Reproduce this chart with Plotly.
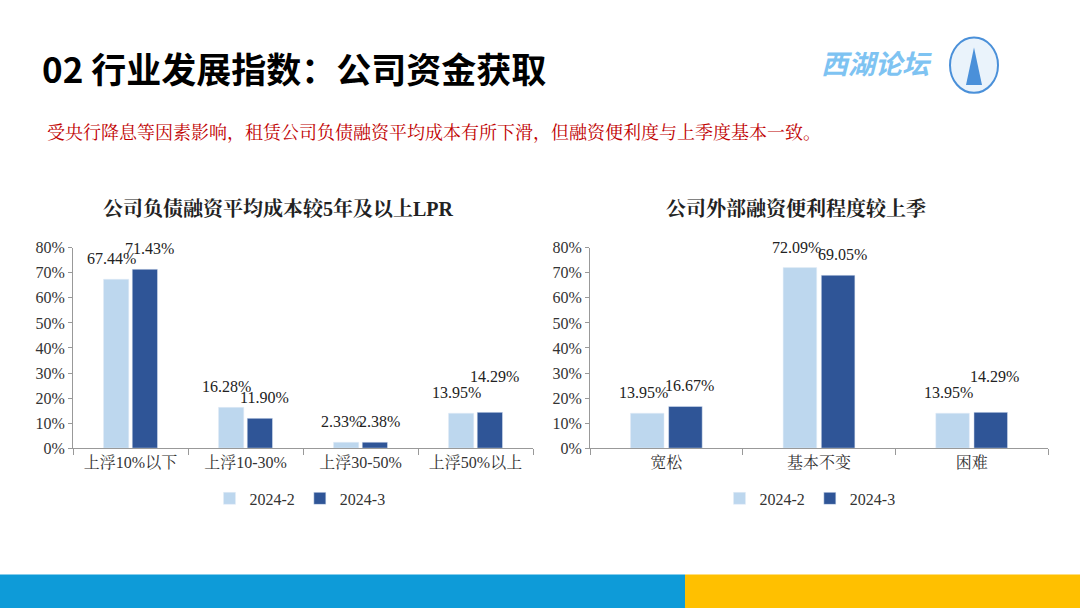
import plotly.graph_objects as go

cats1 = ["上浮10%以下", "上浮10-30%", "上浮30-50%", "上浮50%以上"]
a1_feb = [67.44, 16.28, 2.33, 13.95]
a1_mar = [71.43, 11.90, 2.38, 14.29]
cats2 = ["宽松", "基本不变", "困难"]
a2_feb = [13.95, 72.09, 13.95]
a2_mar = [16.67, 69.05, 14.29]
yticks = [0, 10, 20, 30, 40, 50, 60, 70, 80]

LIGHT = "#BDD7EE"
DARK = "#2F5597"
FONT = "Liberation Serif, Noto Serif CJK SC, Noto Sans CJK SC"
W, H, RH = 1080, 617, 608

def py(v):
    return 1 - v / RH

fig = go.Figure()
anns = []

def add(x, y, name, color, xa, ya, legend):
    fig.add_trace(go.Bar(x=x, y=y, name=name, marker_color=color, xaxis=xa, yaxis=ya,
                         legend=legend, showlegend=True))

def labels(x, feb, mar, xa, ya, dx):
    for c, f, m in zip(x, feb, mar):
        close = abs(f - m) < 1
        anns.append(dict(x=c, y=f, xref=xa, yref=ya, text=f"{f:.2f}%", showarrow=False,
                         xshift=-dx - 3, yshift=10, yanchor="bottom",
                         font=dict(size=16, color="#222", family=FONT)))
        anns.append(dict(x=c, y=m, xref=xa, yref=ya, text=f"{m:.2f}%", showarrow=False,
                         xshift=dx + 3, yshift=10 + (15 if close and f > 5 else 0), yanchor="bottom",
                         font=dict(size=16, color="#222", family=FONT)))

add(cats1, a1_feb, "2024-2", LIGHT, "x", "y", "legend")
add(cats1, a1_mar, "2024-3", DARK, "x", "y", "legend")
add(cats2, a2_feb, "2024-2", LIGHT, "x2", "y2", "legend2")
add(cats2, a2_mar, "2024-3", DARK, "x2", "y2", "legend2")
labels(cats1, a1_feb, a1_mar, "x", "y", 16)
labels(cats2, a2_feb, a2_mar, "x2", "y2", 20)

ax = dict(showline=True, linecolor="#999", ticks="outside", tickcolor="#999",
          tickfont=dict(size=16, color="#333", family=FONT))
ya = dict(ax, range=[0, 80], tickvals=yticks, ticktext=[f"{v}%" for v in yticks],
          showgrid=False, zeroline=False, ticklen=4)
xa = dict(ax, tickson="boundaries", ticklen=6)

anns += [
    dict(text="<b>02 行业发展指数：公司资金获取</b>", x=40/W, y=py(60), xref="paper", yref="paper",
         xanchor="left", yanchor="middle", showarrow=False,
         font=dict(size=35, color="black", family="Noto Sans CJK SC")),
    dict(text="<b><i>西湖论坛</i></b>", x=876/W, y=py(55), xref="paper", yref="paper",
         xanchor="center", yanchor="middle", showarrow=False,
         font=dict(size=27, color="#7EC3F2", family="Noto Sans CJK SC")),
    dict(text="受央行降息等因素影响，租赁公司负债融资平均成本有所下滑，但融资便利度与上季度基本一致。",
         x=45/W, y=py(127), xref="paper", yref="paper", xanchor="left", yanchor="middle",
         showarrow=False, font=dict(size=18, color="#C00000", family=FONT)),
    dict(text="<b>公司负债融资平均成本较5年及以上LPR</b>", x=278/W, y=py(203), xref="paper", yref="paper",
         xanchor="center", yanchor="middle", showarrow=False,
         font=dict(size=20, color="#222", family=FONT)),
    dict(text="<b>公司外部融资便利程度较上季</b>", x=796/W, y=py(203), xref="paper", yref="paper",
         xanchor="center", yanchor="middle", showarrow=False,
         font=dict(size=20, color="#222", family=FONT)),
]

fig.update_layout(
    width=W, height=H, margin=dict(l=0, r=0, t=0, b=0),
    paper_bgcolor="white", plot_bgcolor="white",
    barmode="group", bargap=0.5, bargroupgap=0.12,
    font=dict(family=FONT),
    xaxis=dict(xa, domain=[73/W, 533/W], anchor="y"),
    yaxis=dict(ya, domain=[py(446), py(243)], anchor="x"),
    xaxis2=dict(xa, domain=[590/W, 1048/W], anchor="y2"),
    yaxis2=dict(ya, domain=[py(446), py(243)], anchor="x2"),
    legend=dict(orientation="h", x=300/W, y=py(497), xanchor="center", yanchor="middle",
                font=dict(size=16, color="#333", family=FONT), itemwidth=30),
    legend2=dict(orientation="h", x=810/W, y=py(497), xanchor="center", yanchor="middle",
                 font=dict(size=16, color="#333", family=FONT), itemwidth=30),
    shapes=[
        dict(type="rect", xref="paper", yref="paper", x0=0, x1=685/W, y0=0, y1=34/RH,
             fillcolor="#0E9BD8", line_width=0, layer="below"),
        dict(type="rect", xref="paper", yref="paper", x0=685/W, x1=1, y0=0, y1=34/RH,
             fillcolor="#FFC000", line_width=0, layer="below"),
        dict(type="circle", xref="paper", yref="paper", x0=950/W, x1=998/W,
             y0=py(86), y1=py(30), line=dict(color="#4A90D9", width=2),
             fillcolor="#EAF3FB"),
        dict(type="path", xref="paper", yref="paper",
             path=f"M {966/W} {py(78)} L {974/W} {py(40)} L {982/W} {py(78)} Z",
             fillcolor="#4A90D9", line_width=0),
    ],
    annotations=anns,
)
fig.write_html("out.html", config={"displayModeBar": False},
               post_script="document.body.style.margin='0';document.body.style.overflow='hidden';")
